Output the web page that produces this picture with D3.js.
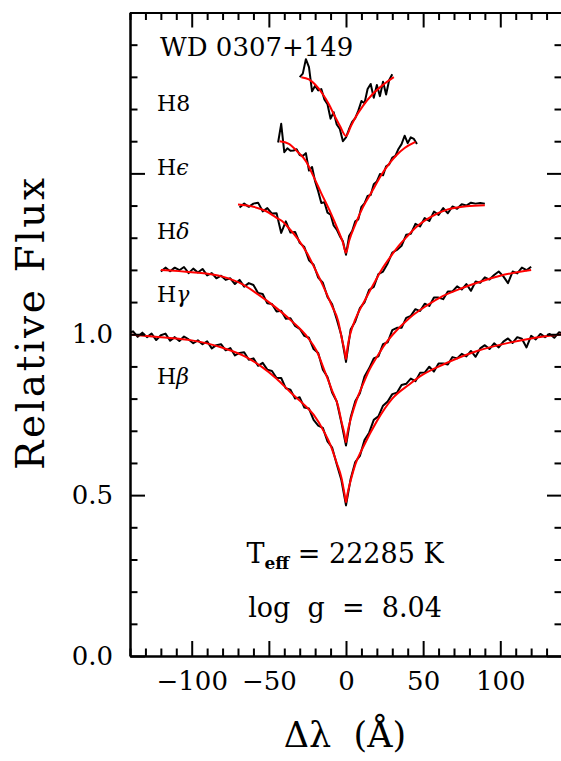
<!DOCTYPE html>
<html><head><meta charset="utf-8">
<script src="https://cdn.jsdelivr.net/npm/d3@7/dist/d3.min.js"></script>
<style>
body{margin:0;background:#fff}
text{font-family:"DejaVu Serif",serif;fill:#000}
</style>
</head><body>
<svg id="c" width="561" height="761"></svg>
<script>
// ---------- data ----------
const lineNames = ["H\u03B2", "H\u03B3", "H\u03B4", "H\u03F5", "H8"];
const lineOffsets = [0.0, 0.2, 0.4, 0.6, 0.8];
const xMajorTicks = [-100, -50, 0, 50, 100];
const yLabelTicks = [0.0, 0.5, 1.0];
const starName = "WD 0307+149";
const teffText = "22285 K";
const loggText = "8.04";

// observed spectra (normalised flux), sampled from start with fixed step (Å)
const hbetaObsStart = -141, hbetaObsStep = 3;
const hbetaObs = [1.003,1.009,0.992,1.005,0.991,1.002,0.982,0.997,1.002,0.980,
0.991,0.979,0.993,0.984,0.972,0.981,0.969,0.978,0.956,0.966,
0.969,0.950,0.957,0.934,0.942,0.944,0.921,0.925,0.902,0.911,
0.890,0.886,0.864,0.864,0.832,0.828,0.800,0.804,0.772,0.769,
0.734,0.716,0.709,0.667,0.648,0.596,0.547,0.468,0.550,0.603,
0.622,0.671,0.694,0.734,0.745,0.778,0.791,0.814,0.818,0.842,
0.846,0.862,0.854,0.880,0.881,0.899,0.884,0.909,0.909,0.906,
0.929,0.925,0.939,0.931,0.948,0.930,0.956,0.966,0.954,0.972,
0.959,0.977,0.987,0.973,0.991,0.986,0.959,0.995,0.984,1.001,
0.991,1.001,0.989,1.006,1.002];

const hgammaObsStart = -120, hgammaObsStep = 3;
const hgammaObs = [0.995,1.007,0.996,1.007,0.999,1.009,0.990,1.004,0.992,1.003,
0.983,0.990,0.974,0.982,0.969,0.974,0.956,0.969,0.948,0.959,
0.953,0.928,0.925,0.896,0.894,0.871,0.873,0.848,0.850,0.826,
0.817,0.795,0.789,0.754,0.742,0.690,0.667,0.619,0.591,0.526,
0.454,0.541,0.592,0.617,0.669,0.694,0.725,0.731,0.769,0.775,
0.813,0.820,0.820,0.851,0.857,0.878,0.872,0.895,0.888,0.914,
0.914,0.909,0.933,0.933,0.949,0.939,0.956,0.935,0.964,0.960,
0.977,0.970,0.984,0.995,0.980,0.959,0.995,0.989,1.007,0.999,
1.010];

const hdeltaObsStart = -69, hdeltaObsStep = 3;
const hdeltaObs = [0.994,1.006,0.996,1.006,1.009,0.982,0.992,0.975,0.976,0.915,
0.951,0.916,0.918,0.884,0.871,0.830,0.816,0.776,0.760,0.716,
0.693,0.647,0.596,0.514,0.615,0.640,0.681,0.699,0.738,0.747,
0.787,0.795,0.820,0.854,0.862,0.875,0.909,0.912,0.943,0.935,
0.961,0.952,0.981,0.971,0.992,0.976,0.997,0.990,1.004,1.000,
1.009,1.006,1.008,1.006];

const hepsObsStart = -44, hepsObsStep = 2;
const hepsObs = [0.996,1.054,0.966,0.978,0.970,0.971,0.975,0.957,0.954,0.963,
0.909,0.920,0.875,0.844,0.808,0.810,0.778,0.772,0.738,0.725,
0.705,0.689,0.647,0.705,0.721,0.751,0.757,0.796,0.807,0.830,
0.833,0.866,0.875,0.898,0.894,0.922,0.928,0.949,0.954,0.976,
0.991,1.017,0.994,1.012,1.007,0.991];

const h8ObsStart = -30, h8ObsStep = 2;
const h8Obs = [0.999,1.010,1.055,1.030,0.955,0.972,0.958,0.962,0.930,0.915,
0.870,0.890,0.852,0.838,0.800,0.812,0.838,0.860,0.872,0.895,
0.925,0.918,0.962,0.978,0.935,0.975,0.940,0.985,0.945,0.990,
1.008];

// model fits (normalised flux)
const hbetaModelWave = [-141,-120,-100,-80,-65,-55,-45,-35,-28,-21,-14,-10,-6,-3,-1,0,1,3,6,11,20,30,41,50,63,85,106,120,141];
const hbetaModelFlux = [1.000,0.991,0.981,0.958,0.930,0.900,0.862,0.815,0.785,0.750,0.695,0.655,0.600,0.555,0.505,0.478,0.505,0.545,0.595,0.648,0.730,0.800,0.844,0.875,0.906,0.948,0.974,0.987,1.000];

const hgammaModelWave = [-120,-100,-80,-67,-57,-46,-35,-25,-19,-14,-9,-5,-3,-1,0,1,3,5,8,11,15,20,25,30.5,41,52,63,75,85,100,120];
const hgammaModelFlux = [1.000,0.993,0.979,0.955,0.924,0.885,0.840,0.791,0.748,0.688,0.625,0.575,0.530,0.490,0.464,0.495,0.535,0.568,0.610,0.644,0.688,0.729,0.767,0.800,0.850,0.888,0.919,0.943,0.960,0.982,1.000];

const hdeltaModelWave = [-70,-60,-52,-45,-41.5,-38,-31,-25,-20,-15,-9,-5,-2.6,-1,0,1,3,6,12.5,18,23,29,34,40,45,55,66,78,90];
const hdeltaModelFlux = [1.003,0.996,0.983,0.962,0.952,0.935,0.895,0.850,0.802,0.752,0.687,0.640,0.584,0.550,0.522,0.560,0.605,0.646,0.708,0.757,0.800,0.842,0.874,0.906,0.931,0.965,0.988,0.998,1.001];

const hepsModelWave = [-43,-37,-32,-26,-21,-16,-10,-5,-2,0,2,6,11,17,22,28,33,38,45];
const hepsModelFlux = [1.000,0.992,0.970,0.938,0.890,0.838,0.778,0.722,0.685,0.653,0.690,0.741,0.795,0.845,0.888,0.930,0.958,0.979,0.998];

const h8ModelWave = [-29,-24,-20,-15,-11,-7,-4,0,3,6,11,17,24,31];
const h8ModelFlux = [0.999,0.992,0.976,0.946,0.914,0.875,0.848,0.816,0.845,0.873,0.910,0.945,0.975,0.999];

// ---------- drawing ----------
const svg = d3.select("#c");
const x = d3.scaleLinear().domain([-140, 140]).range([130, 562]);
const y = d3.scaleLinear().domain([0, 2]).range([656, 12.5]);

svg.append("defs").append("clipPath").attr("id", "plotclip")
  .append("rect").attr("x", x(-140)).attr("y", y(2))
  .attr("width", x(140) - x(-140)).attr("height", y(0) - y(2));

const obsSets = [
  [hbetaObsStart, hbetaObsStep, hbetaObs],
  [hgammaObsStart, hgammaObsStep, hgammaObs],
  [hdeltaObsStart, hdeltaObsStep, hdeltaObs],
  [hepsObsStart, hepsObsStep, hepsObs],
  [h8ObsStart, h8ObsStep, h8Obs]
];
const modelSets = [
  [hbetaModelWave, hbetaModelFlux],
  [hgammaModelWave, hgammaModelFlux],
  [hdeltaModelWave, hdeltaModelFlux],
  [hepsModelWave, hepsModelFlux],
  [h8ModelWave, h8ModelFlux]
];

const plot = svg.append("g").attr("clip-path", "url(#plotclip)");
const obsLine = d3.line().x(d => x(d[0])).y(d => y(d[1]));
const modLine = d3.line().x(d => x(d[0])).y(d => y(d[1])).curve(d3.curveMonotoneX);

obsSets.forEach((s, i) => {
  const pts = s[2].map((f, k) => [s[0] + k * s[1], f + lineOffsets[i]]);
  plot.append("path").attr("d", obsLine(pts))
    .attr("fill", "none").attr("stroke", "#000").attr("stroke-width", 2)
    .attr("stroke-linejoin", "round");
});
modelSets.forEach((s, i) => {
  const pts = s[0].map((w, k) => [w, s[1][k] + lineOffsets[i]]);
  plot.append("path").attr("d", modLine(pts))
    .attr("fill", "none").attr("stroke", "#ff0000").attr("stroke-width", 2);
});

// axes
const xMinor = d3.range(-140, 141, 10).filter(v => xMajorTicks.indexOf(v) < 0);
const yMajor = [0, 0.5, 1.0, 1.5, 2.0];
const yMinor = d3.range(0, 2.001, 0.1).map(v => +v.toFixed(1)).filter(v => yMajor.indexOf(v) < 0);

function styleAxis(g) {
  g.selectAll("path.domain").attr("stroke", "#000").attr("stroke-width", 2);
  g.selectAll(".tick line").attr("stroke", "#000").attr("stroke-width", 2);
  g.attr("font-family", "DejaVu Serif").attr("font-size", 26);
}

const fmtY = d => yLabelTicks.indexOf(d) >= 0 ? d3.format(".1f")(d) : "";

svg.append("g").attr("transform", `translate(0,${y(0)})`)
  .call(d3.axisBottom(x).tickValues(xMajorTicks).tickSize(-15).tickSizeOuter(0).tickPadding(16))
  .call(styleAxis);
svg.append("g").attr("transform", `translate(0,${y(0)})`)
  .call(d3.axisBottom(x).tickValues(xMinor).tickSize(-7.5).tickSizeOuter(0).tickFormat(""))
  .call(styleAxis);
svg.append("g").attr("transform", `translate(0,${y(2)})`)
  .call(d3.axisTop(x).tickValues(xMajorTicks).tickSize(-15).tickSizeOuter(0).tickFormat(""))
  .call(styleAxis);
svg.append("g").attr("transform", `translate(0,${y(2)})`)
  .call(d3.axisTop(x).tickValues(xMinor).tickSize(-7.5).tickSizeOuter(0).tickFormat(""))
  .call(styleAxis);
svg.append("g").attr("transform", `translate(${x(-140)},0)`)
  .call(d3.axisLeft(y).tickValues(yMajor).tickSize(-15).tickSizeOuter(0).tickPadding(17).tickFormat(fmtY))
  .call(styleAxis);
svg.append("g").attr("transform", `translate(${x(-140)},0)`)
  .call(d3.axisLeft(y).tickValues(yMinor).tickSize(-7.5).tickSizeOuter(0).tickFormat(""))
  .call(styleAxis);
svg.append("g").attr("transform", `translate(${x(140)},0)`)
  .call(d3.axisRight(y).tickValues(yMajor).tickSize(-15).tickSizeOuter(0).tickFormat(""))
  .call(styleAxis);
svg.append("g").attr("transform", `translate(${x(140)},0)`)
  .call(d3.axisRight(y).tickValues(yMinor).tickSize(-7.5).tickSizeOuter(0).tickFormat(""))
  .call(styleAxis);

// axis titles
svg.append("text")
  .attr("transform", "translate(44,324) rotate(-90)")
  .attr("text-anchor", "middle").attr("font-size", 39)
  .attr("textLength", 292).attr("lengthAdjust", "spacing")
  .text("Relative Flux");
svg.append("text")
  .attr("x", 345).attr("y", 747).attr("text-anchor", "middle").attr("font-size", 35)
  .style("white-space", "pre")
  .text("\u0394\u03BB  (\u00C5)");

// star name
svg.append("text").attr("x", 160).attr("y", 56).attr("font-size", 26).text(starName);

// line labels
const labelBaselines = [384, 302, 239, 175, 111];
lineNames.forEach((n, i) => {
  const t = svg.append("text").attr("x", 157).attr("y", labelBaselines[i]).attr("font-size", 22);
  t.append("tspan").text(n.charAt(0));
  t.append("tspan").attr("font-style", n.charAt(1) === "8" ? "normal" : "italic").text(n.slice(1));
});

// parameters
const tl = svg.append("text").attr("x", 345).attr("y", 563).attr("text-anchor", "middle")
  .attr("font-size", 27).style("white-space", "pre");
tl.append("tspan").text("T");
tl.append("tspan").attr("font-size", 17).attr("font-weight", "bold").attr("dy", 6).text("eff");
tl.append("tspan").attr("dy", -6).text(" = " + teffText);

svg.append("text").attr("x", 345).attr("y", 617).attr("text-anchor", "middle")
  .attr("font-size", 27).style("white-space", "pre")
  .text("log  g  =  " + loggText);
</script>
</body></html>
